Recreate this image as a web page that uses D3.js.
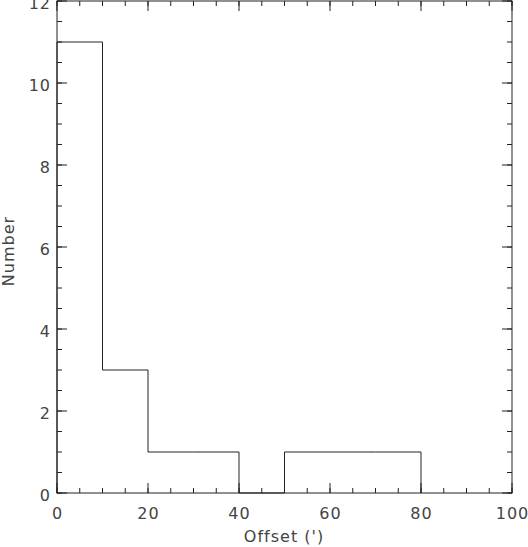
<!DOCTYPE html>
<html>
<head>
<meta charset="utf-8">
<script src="https://cdn.jsdelivr.net/npm/d3@7"></script>
<style>
  body { margin: 0; background: #fff; }
  text { font-family: "DejaVu Sans", sans-serif; fill: #444; letter-spacing: 1px; }
</style>
</head>
<body>
<div id="chart"></div>
<script>
var binEdges = [0, 10, 20, 30, 40, 50, 60, 70, 80];
var counts = [11, 3, 1, 1, 0, 1, 1, 1];
var xTicks = [0, 20, 40, 60, 80, 100];
var yTicks = [0, 2, 4, 6, 8, 10, 12];

var width = 528, height = 547;
var margin = { top: 1, right: 16, bottom: 54, left: 57 };

var svg = d3.select("#chart").append("svg")
    .attr("width", width)
    .attr("height", height);

var x = d3.scaleLinear().domain([0, 100]).range([margin.left, width - margin.right]);
var y = d3.scaleLinear().domain([0, 12]).range([height - margin.bottom, margin.top]);

var line = "#222";

// IDL style: ticks on all four sides
function drawTicks(axis, ticks, len) {
    ticks.forEach(function (t) {
        if (axis == "x") {
            svg.append("line").attr("x1", x(t)).attr("x2", x(t))
                .attr("y1", y(0)).attr("y2", y(0) - len).attr("stroke", line);
            svg.append("line").attr("x1", x(t)).attr("x2", x(t))
                .attr("y1", y(12)).attr("y2", y(12) + len).attr("stroke", line);
        } else {
            svg.append("line").attr("x1", x(0)).attr("x2", x(0) + len)
                .attr("y1", y(t)).attr("y2", y(t)).attr("stroke", line);
            svg.append("line").attr("x1", x(100)).attr("x2", x(100) - len)
                .attr("y1", y(t)).attr("y2", y(t)).attr("stroke", line);
        }
    });
}
drawTicks("x", d3.range(0, 101, 5), 5);
drawTicks("x", xTicks, 10);
drawTicks("y", d3.range(0, 12.01, 0.5), 5);
drawTicks("y", yTicks, 10);

svg.append("rect")
    .attr("x", x(0)).attr("y", y(12))
    .attr("width", x(100) - x(0)).attr("height", y(0) - y(12))
    .attr("fill", "none").attr("stroke", line);

// histogram outline
var pts = [[binEdges[0], 0]];
counts.forEach(function (c, i) {
    pts.push([binEdges[i], c]);
    pts.push([binEdges[i + 1], c]);
});
pts.push([binEdges[binEdges.length - 1], 0]);

svg.append("path")
    .attr("d", d3.line().x(function (d) { return x(d[0]); }).y(function (d) { return y(d[1]); })(pts))
    .attr("fill", "none")
    .attr("stroke", line)
    .attr("stroke-width", 1);

svg.selectAll(".xl").data(xTicks).enter().append("text")
    .attr("x", function (d) { return x(d) + 0.5; })
    .attr("y", y(0) + 26)
    .attr("text-anchor", "middle")
    .attr("font-size", 16)
    .text(function (d) { return d; });

svg.selectAll(".yl").data(yTicks).enter().append("text")
    .attr("x", x(0) - 6)
    .attr("y", function (d) { return y(d) + 8; })
    .attr("text-anchor", "end")
    .attr("font-size", 16)
    .text(function (d) { return d; });

svg.append("text")
    .attr("x", 284)
    .attr("y", 542)
    .attr("text-anchor", "middle")
    .attr("font-size", 16)
    .text("Offset (')");

svg.append("text")
    .attr("transform", "translate(14,251) rotate(-90)")
    .attr("text-anchor", "middle")
    .attr("font-size", 16)
    .text("Number");
</script>
</body>
</html>
